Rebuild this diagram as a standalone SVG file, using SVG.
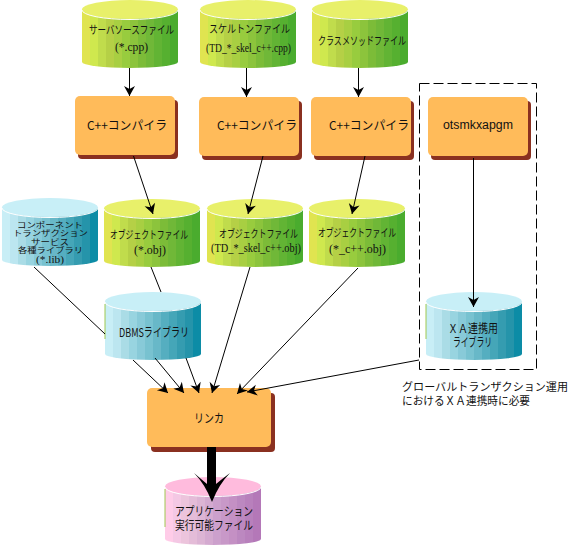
<svg xmlns="http://www.w3.org/2000/svg" width="570" height="545" viewBox="0 0 570 545">
<style>
text{fill:#111;font-size:11px;text-anchor:start;font-family:"Noto Sans CJK JP","Liberation Sans",sans-serif}
.s{font-family:"Liberation Serif","Noto Sans CJK JP",serif;font-size:12px}
.g{font-family:"Liberation Sans","Noto Sans CJK JP",sans-serif;font-size:12px}
.b{font-size:12px}
.t{font-size:8px}
.ln{fill:none;stroke:#000;stroke-width:1}
.a{marker-end:url(#ah)}
.bx{fill:#ffbb5a}
.sh{fill:#8a3020}
.rim{fill:none;stroke:#fff;stroke-width:1}
</style>
<defs>
<marker id="ah" markerUnits="userSpaceOnUse" markerWidth="14" markerHeight="14" viewBox="-12 -7 14 14" refX="0" refY="0" orient="auto"><path d="M0,0 L-10,5.5 L-7,0 L-10,-5.5 Z" fill="#000"/></marker>
<linearGradient id="gG"><stop offset="0" stop-color="#e0e450"/><stop offset=".083" stop-color="#e0e450"/><stop offset=".083" stop-color="#cfe84e"/><stop offset=".167" stop-color="#cfe84e"/><stop offset=".167" stop-color="#c0dc4c"/><stop offset=".25" stop-color="#c0dc4c"/><stop offset=".25" stop-color="#b5d046"/><stop offset=".333" stop-color="#b5d046"/><stop offset=".333" stop-color="#a8cf42"/><stop offset=".417" stop-color="#a8cf42"/><stop offset=".417" stop-color="#98cc3e"/><stop offset=".5" stop-color="#98cc3e"/><stop offset=".5" stop-color="#8cc43c"/><stop offset=".583" stop-color="#8cc43c"/><stop offset=".583" stop-color="#7cbc38"/><stop offset=".667" stop-color="#7cbc38"/><stop offset=".667" stop-color="#70b838"/><stop offset=".75" stop-color="#70b838"/><stop offset=".75" stop-color="#62b434"/><stop offset=".833" stop-color="#62b434"/><stop offset=".833" stop-color="#56b030"/><stop offset=".917" stop-color="#56b030"/><stop offset=".917" stop-color="#4aac2e"/><stop offset="1" stop-color="#4aac2e"/></linearGradient>
<linearGradient id="gB"><stop offset="0" stop-color="#c8eef6"/><stop offset=".083" stop-color="#c8eef6"/><stop offset=".083" stop-color="#bce6f0"/><stop offset=".167" stop-color="#bce6f0"/><stop offset=".167" stop-color="#aadce6"/><stop offset=".25" stop-color="#aadce6"/><stop offset=".25" stop-color="#98d4e0"/><stop offset=".333" stop-color="#98d4e0"/><stop offset=".333" stop-color="#88cad8"/><stop offset=".417" stop-color="#88cad8"/><stop offset=".417" stop-color="#78c2d0"/><stop offset=".5" stop-color="#78c2d0"/><stop offset=".5" stop-color="#68b8c8"/><stop offset=".583" stop-color="#68b8c8"/><stop offset=".583" stop-color="#55aec0"/><stop offset=".667" stop-color="#55aec0"/><stop offset=".667" stop-color="#45a6b8"/><stop offset=".75" stop-color="#45a6b8"/><stop offset=".75" stop-color="#359cb0"/><stop offset=".833" stop-color="#359cb0"/><stop offset=".833" stop-color="#2594aa"/><stop offset=".917" stop-color="#2594aa"/><stop offset=".917" stop-color="#0c8ca6"/><stop offset="1" stop-color="#0c8ca6"/></linearGradient>
<linearGradient id="gP"><stop offset="0" stop-color="#ffcce8"/><stop offset=".083" stop-color="#ffcce8"/><stop offset=".083" stop-color="#f4c8e4"/><stop offset=".167" stop-color="#f4c8e4"/><stop offset=".167" stop-color="#ecc4dc"/><stop offset=".25" stop-color="#ecc4dc"/><stop offset=".25" stop-color="#e4bcd8"/><stop offset=".333" stop-color="#e4bcd8"/><stop offset=".333" stop-color="#dcb4d4"/><stop offset=".417" stop-color="#dcb4d4"/><stop offset=".417" stop-color="#d4aad0"/><stop offset=".5" stop-color="#d4aad0"/><stop offset=".5" stop-color="#cca0cc"/><stop offset=".583" stop-color="#cca0cc"/><stop offset=".583" stop-color="#c898c8"/><stop offset=".667" stop-color="#c898c8"/><stop offset=".667" stop-color="#c490c4"/><stop offset=".75" stop-color="#c490c4"/><stop offset=".75" stop-color="#bc88c0"/><stop offset=".833" stop-color="#bc88c0"/><stop offset=".833" stop-color="#b880bc"/><stop offset=".917" stop-color="#b880bc"/><stop offset=".917" stop-color="#b478b8"/><stop offset="1" stop-color="#b478b8"/></linearGradient>
<path id="body" d="M0,10 V62 A48,6 0 0 0 96,62 V10 Z"/>
<path id="rim" class="rim" d="M0,10 A48,9.5 0 0 0 96,10"/>
</defs>

<g id="n-src"><g transform="translate(82,0)"><use href="#body" fill="url(#gG)"/><ellipse cx="48" cy="9.5" rx="48" ry="9.5" fill="#e8f06a"/><use href="#rim"/></g>
<text x="89" y="34" textLength="85" lengthAdjust="spacingAndGlyphs">サーバソースファイル</text><text class="s" x="115" y="51" textLength="33" lengthAdjust="spacingAndGlyphs">(*.cpp)</text></g>
<g id="n-skel"><g transform="translate(200,0)"><use href="#body" fill="url(#gG)"/><ellipse cx="48" cy="9.5" rx="48" ry="9.5" fill="#e8f06a"/><use href="#rim"/></g>
<text x="209" y="33" textLength="81" lengthAdjust="spacingAndGlyphs">スケルトンファイル</text><text class="s" x="206" y="52" textLength="85" lengthAdjust="spacingAndGlyphs">(TD_*_skel_c++.cpp)</text></g>
<g id="n-class"><g transform="translate(312,0)"><use href="#body" fill="url(#gG)"/><ellipse cx="48" cy="9.5" rx="48" ry="9.5" fill="#e8f06a"/><use href="#rim"/></g>
<text x="318" y="45" textLength="88" lengthAdjust="spacingAndGlyphs">クラスメソッドファイル</text></g>

<g id="n-cc1"><rect class="sh" x="78" y="100" width="100" height="59" rx="4"/><rect class="bx" x="75" y="96" width="100" height="59" rx="5"/><text class="b" x="87" y="130" textLength="80" lengthAdjust="spacingAndGlyphs">C++コンパイラ</text></g>
<g id="n-cc2"><rect class="sh" x="202" y="101" width="100" height="59" rx="4"/><rect class="bx" x="199" y="97" width="100" height="59" rx="5"/><text class="b" x="217" y="130" textLength="80" lengthAdjust="spacingAndGlyphs">C++コンパイラ</text></g>
<g id="n-cc3"><rect class="sh" x="314" y="101" width="100" height="59" rx="4"/><rect class="bx" x="311" y="97" width="100" height="59" rx="5"/><text class="b" x="329" y="130" textLength="80" lengthAdjust="spacingAndGlyphs">C++コンパイラ</text></g>
<g id="n-ots"><rect class="sh" x="431" y="101" width="100" height="59" rx="4"/><rect class="bx" x="428" y="97" width="100" height="59" rx="5"/><text class="g" x="443" y="129" textLength="70" lengthAdjust="spacingAndGlyphs">otsmkxapgm</text></g>

<g id="n-lib"><g transform="translate(2,198)"><use href="#body" fill="url(#gB)"/><ellipse cx="48" cy="9.5" rx="48" ry="9.5" fill="#c8eff7"/><use href="#rim"/></g>
<text class="t" x="17" y="227.500" textLength="66" lengthAdjust="spacingAndGlyphs">コンポーネント</text><text class="t" x="13" y="236" textLength="75" lengthAdjust="spacingAndGlyphs">トランザクション</text><text class="t" x="31" y="244.500" textLength="38" lengthAdjust="spacingAndGlyphs">サービス</text><text class="t" x="18" y="253" textLength="65" lengthAdjust="spacingAndGlyphs">各種ライブラリ</text><text class="s" style="font-size:10px" x="36" y="263" textLength="28" lengthAdjust="spacingAndGlyphs">(*.lib)</text></g>
<g id="n-obj1"><g transform="translate(104,199)"><use href="#body" fill="url(#gG)"/><ellipse cx="48" cy="9.5" rx="48" ry="9.5" fill="#e8f06a"/><use href="#rim"/></g>
<text x="110" y="239" textLength="78" lengthAdjust="spacingAndGlyphs">オブジェクトファイル</text><text class="s" x="134" y="254" textLength="32" lengthAdjust="spacingAndGlyphs">(*.obj)</text></g>
<g id="n-obj2"><g transform="translate(207,199)"><use href="#body" fill="url(#gG)"/><ellipse cx="48" cy="9.5" rx="48" ry="9.5" fill="#e8f06a"/><use href="#rim"/></g>
<text x="219" y="238" textLength="79" lengthAdjust="spacingAndGlyphs">オブジェクトファイル</text><text class="s" x="211" y="252" textLength="90" lengthAdjust="spacingAndGlyphs">(TD_*_skel_c++.obj)</text></g>
<g id="n-obj3"><g transform="translate(309,199)"><use href="#body" fill="url(#gG)"/><ellipse cx="48" cy="9.5" rx="48" ry="9.5" fill="#e8f06a"/><use href="#rim"/></g>
<text x="318" y="237" textLength="78" lengthAdjust="spacingAndGlyphs">オブジェクトファイル</text><text class="s" x="329" y="253" textLength="57" lengthAdjust="spacingAndGlyphs">(*_c++.obj)</text></g>
<g id="n-dbms"><g transform="translate(105,292)"><use href="#body" fill="url(#gB)"/><path d="M0,12V47" stroke="#a0c850" fill="none"/><ellipse cx="48" cy="9.5" rx="48" ry="9.5" fill="#c8eff7"/><use href="#rim"/></g>
<text class="b" x="119" y="337" textLength="70" lengthAdjust="spacingAndGlyphs">DBMSライブラリ</text></g>
<g id="n-xa"><g transform="translate(426,292)"><use href="#body" fill="url(#gB)"/><path d="M0,12V47" stroke="#a0c850" fill="none"/><ellipse cx="48" cy="9.5" rx="48" ry="9.5" fill="#c8eff7"/><use href="#rim"/></g>
<text class="b" x="448" y="333" textLength="50" lengthAdjust="spacingAndGlyphs">ＸＡ連携用</text><text class="b" x="453" y="347" textLength="39" lengthAdjust="spacingAndGlyphs">ライブラリ</text></g>

<g id="n-link"><rect class="sh" x="151" y="393" width="124" height="59" rx="4"/><rect class="bx" x="147" y="388" width="124" height="59" rx="5"/><text class="b" x="194" y="423" textLength="30" lengthAdjust="spacingAndGlyphs">リンカ</text></g>
<g id="n-exe"><g transform="translate(165,477)"><use href="#body" fill="url(#gP)"/><path d="M0,12V50" stroke="#a0c850" fill="none"/><ellipse cx="48" cy="9.5" rx="48" ry="9.5" fill="#ffbbdd"/><use href="#rim"/></g>
<text class="b" x="175" y="516" textLength="78" lengthAdjust="spacingAndGlyphs">アプリケーション</text><text class="b" x="175" y="530" textLength="78" lengthAdjust="spacingAndGlyphs">実行可能ファイル</text></g>

<g id="connectors">
<path class="ln a" d="M129.5,68V96"/>
<path class="ln a" d="M246.500,68V97"/>
<path class="ln a" d="M358.500,68V97"/>
<path class="ln a" d="M133.500,156L153,214"/>
<path class="ln a" d="M263,156L248,214"/>
<path class="ln a" d="M365,156L352,214"/>
<path class="ln a" d="M473.500,158V307"/>
<path class="ln" d="M34,267L105,334"/>
<path class="ln a" d="M133,360L168,393"/>
<path class="ln a" d="M155,358L184,393"/>
<path class="ln" d="M151,267L161,292"/>
<path class="ln a" d="M186,358L199,393"/>
<path class="ln a" d="M250,267L212,393"/>
<path class="ln a" d="M358,268L237,394"/>
<path class="ln a" d="M419,360L247,392"/>
<path d="M207,447H216V484Q222,479 230,473Q219,484 212,502Q205,484 194,473Q201,479 207,484Z" fill="#000"/>
</g>
<rect id="dashed" class="ln" x="419.500" y="83.500" width="117" height="286" stroke-dasharray="10,4"/>
<text id="note1" x="402" y="391" textLength="166" lengthAdjust="spacingAndGlyphs">グローバルトランザクション運用</text>
<text id="note2" x="402" y="405" textLength="128" lengthAdjust="spacingAndGlyphs">におけるＸＡ連携時に必要</text>
</svg>
